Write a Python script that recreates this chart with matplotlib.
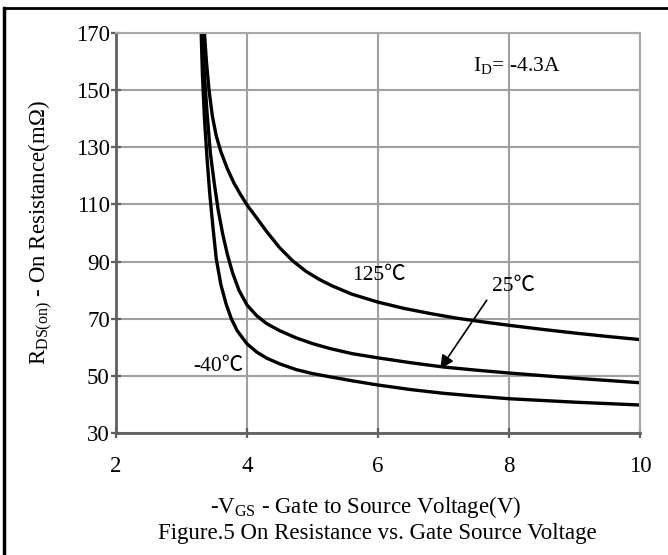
import matplotlib
matplotlib.use('Agg')
import matplotlib.pyplot as plt
from matplotlib.lines import Line2D

plt.rcParams['font.family'] = ['Liberation Serif', 'Noto Sans CJK SC', 'DejaVu Sans']
plt.rcParams['mathtext.fontset'] = 'custom'
plt.rcParams['mathtext.rm'] = 'Liberation Serif'
plt.rcParams['mathtext.it'] = 'Liberation Serif:italic'

# values
vgs_m40 = [3.30, 3.32, 3.35, 3.39, 3.43, 3.48, 3.53, 3.60, 3.68, 3.76, 3.85,
           4.00, 4.15, 4.30, 4.50, 4.75, 5.00, 5.26, 5.60, 6.00, 6.50, 7.00,
           7.50, 8.00, 8.50, 9.00, 9.50, 10.0]
rds_m40 = [170, 155, 140, 126, 114, 102, 91, 82, 75.2, 70, 65.8,
           61.2, 58.3, 56.2, 54.2, 52.2, 50.8, 49.7, 48.3, 46.8, 45.2, 43.9,
           42.9, 42, 41.4, 40.8, 40.3, 39.8]

vgs_25 = [3.32, 3.35, 3.39, 3.44, 3.50, 3.56, 3.63, 3.70, 3.78, 3.88,
          4.00, 4.15, 4.30, 4.50, 4.75, 5.00, 5.26, 5.60, 6.00, 6.50, 7.00,
          7.50, 8.00, 8.50, 9.00, 9.50, 10.0]
rds_25 = [170, 155, 142, 128, 117.4, 108, 99.5, 92.5, 86, 79.8,
          74.8, 71, 68.3, 65.8, 63.3, 61.3, 59.6, 57.8, 56.3, 54.6, 53.1,
          52, 51, 50.1, 49.2, 48.4, 47.6]

vgs_125 = [3.35, 3.38, 3.42, 3.47, 3.53, 3.60, 3.70, 3.80, 3.90, 4.00,
           4.15, 4.30, 4.50, 4.70, 4.90, 5.10, 5.30, 5.60, 6.00, 6.40, 6.80,
           7.20, 7.60, 8.00, 8.50, 9.00, 9.50, 10.0]
rds_125 = [170, 160, 150, 141, 134, 128.5, 122.5, 117.5, 113.5, 109.8,
           105.2, 100.5, 94.8, 90.2, 86.6, 83.8, 81.5, 78.6, 75.8, 73.6, 71.8,
           70.2, 68.9, 67.7, 66.3, 65.0, 63.8, 62.7]

x_ticks = [2, 4, 6, 8, 10]
y_ticks = [30, 50, 70, 90, 110, 130, 150, 170]

fs = 16.5

fig = plt.figure(figsize=(6.68, 5.55), dpi=100)
ax = fig.add_axes([0.1737, 0.2198, 0.7844, 0.7207])

for xs, ys in [(vgs_m40, rds_m40), (vgs_25, rds_25), (vgs_125, rds_125)]:
    ax.plot(xs, ys, color='black', lw=2.4, solid_joinstyle='round')

ax.set_xlim(2, 10)
ax.set_ylim(30, 170)
ax.set_xticks(x_ticks)
ax.set_yticks(y_ticks)
ax.grid(True, color='#a0a0a0', lw=1.5)
ax.set_axisbelow(True)

for s in ['top', 'right']:
    ax.spines[s].set_color('#a8a8a8')
    ax.spines[s].set_linewidth(1.5)
for s in ['left', 'bottom']:
    ax.spines[s].set_color('#606060')
    ax.spines[s].set_linewidth(2.0)

ax.tick_params(axis='both', direction='inout', length=7, width=1.6,
               color='#606060', labelsize=fs)
ax.tick_params(axis='y', pad=1)
ax.tick_params(axis='x', pad=13)

ax.text(7.45, 158.5, r'I$_\mathrm{D}$= -4.3A', fontsize=fs - 1, va='center', ha='left')
ax.text(5.6, 85, '125℃', fontsize=fs - 1, va='center', ha='left')
ax.text(7.74, 81.4, '25℃', fontsize=fs - 1, va='center', ha='left')
ax.text(3.18, 53.4, '-40℃', fontsize=fs - 1, va='center', ha='left')
ax.annotate('', xy=(6.95, 52.5), xytext=(7.66, 76.5),
            arrowprops=dict(arrowstyle='-|>', color='black', lw=1.2,
                            mutation_scale=20, shrinkA=0, shrinkB=0))

fig.text(0.061, 0.58, r'R$_\mathrm{DS(on)}$ - On Resistance(mΩ)', rotation=90,
         fontsize=fs, ha='center', va='center')
fig.text(0.548, 0.086, r'-V$_\mathrm{GS}$ - Gate to Source Voltage(V)',
         fontsize=fs, ha='center', va='center')
fig.text(0.565, 0.038, 'Figure.5 On Resistance vs. Gate Source Voltage',
         fontsize=fs, ha='center', va='center')

# partial outer frame (top and left edges)
fig.add_artist(Line2D([4 / 668, 1.0], [1 - 8 / 555, 1 - 8 / 555],
                      transform=fig.transFigure, color='black', lw=2))
fig.add_artist(Line2D([4 / 668, 4 / 668], [0.0, 1 - 8 / 555],
                      transform=fig.transFigure, color='black', lw=2.5))

fig.savefig('out.png', dpi=100)
